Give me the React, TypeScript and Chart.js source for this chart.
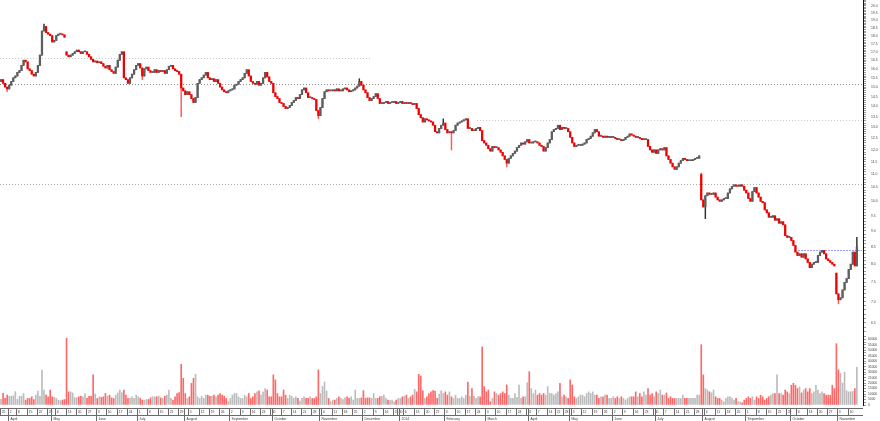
import React, { useEffect, useRef } from 'react';
import { Chart, registerables } from 'chart.js';
Chart.register(...registerables);

const FONT = "'Liberation Sans', Arial, sans-serif";

// ---- DATA ----
const startDate = '2013-03-25';
const holidays = ['2013-03-29', '2013-04-01', '2013-05-01', '2013-12-24', '2013-12-25', '2013-12-26', '2013-12-31', '2014-01-01', '2014-04-18', '2014-04-21', '2014-05-01'];

const closes = [
  15.4, 15.2, 15.0, 14.9, 15.1, 15.3, 15.5, 15.6, 15.8, 15.9,
  16.2, 16.5, 16.4, 16.0, 15.9, 15.7, 15.6, 15.8, 16.2, 16.8,
  18.3, 18.6, 18.2, 18.1, 18.0, 17.6, 17.7, 18.0, 18.1,
  18.1, 18.05, 17.9, 16.8, 16.7, 16.8, 16.9, 17.0, 17.1, 17.0,
  16.9, 17.0, 17.0, 16.85, 16.7, 16.55, 16.4, 16.45, 16.35, 16.4,
  16.3, 16.15, 16.05, 16.2, 15.95, 15.85, 15.75, 16.1, 16.5, 16.85,
  17.0, 15.5, 15.4, 15.2, 15.5, 15.7, 15.95, 16.2, 16.3,
  16.05, 15.6, 16.0, 16.1, 15.9, 15.8, 15.8, 15.95, 15.8, 15.9,
  15.85, 15.9, 15.75, 15.95, 16.15, 16.2, 16.0, 15.9, 15.85, 15.7,
  14.95, 14.8, 14.6, 14.75, 14.6, 14.4, 14.2, 14.45, 15.2, 15.4,
  15.5, 15.65, 15.8, 15.5, 15.4, 15.45, 15.3, 15.4, 15.2,
  15.0, 14.85, 14.75, 14.7, 14.8, 14.85, 14.9, 15.1, 15.15, 15.3,
  15.4, 15.5, 15.75, 15.95, 15.6, 15.3, 15.2, 15.15, 15.3, 15.1,
  15.2, 15.5, 15.8, 15.55, 15.3, 15.2, 14.7, 14.5, 14.4, 14.2,
  14.15, 14.0, 13.9, 13.95, 14.05, 14.2, 14.3, 14.45, 14.4, 14.6,
  14.85, 14.95, 14.7, 14.45, 14.45, 14.4, 14.35, 13.8, 13.55,
  13.95, 14.4, 14.75, 14.85, 14.8, 14.8, 14.85, 14.8, 14.9, 14.8,
  14.8, 14.9, 14.95, 14.85, 14.75, 14.8, 14.85, 14.95, 15.05, 15.3,
  15.1, 14.85, 14.7, 14.45, 14.3, 14.4, 14.5, 14.65, 14.4, 14.15,
  14.15, 14.2, 14.25, 14.15, 14.2, 14.2, 14.25, 14.15, 14.2,
  14.25, 14.15, 14.2, 14.15, 14.2, 14.15, 14.1, 14.15, 13.9, 13.6,
  13.45, 13.25, 13.4, 13.35, 13.3, 13.25, 13.1, 12.8, 12.75, 12.95,
  13.1, 13.2, 12.9, 12.75, 12.8, 12.75, 12.85, 13.1, 13.2, 13.25,
  13.3, 13.35, 13.4, 12.95, 12.95, 12.85, 12.85, 12.95, 13.0,
  12.85, 12.4, 12.3, 12.2, 12.05, 11.95, 12.15, 12.1, 12.1, 12.0,
  11.9, 11.75, 11.6, 11.45, 11.65, 11.75, 11.85, 11.95, 12.1, 12.2,
  12.3, 12.25, 12.35, 12.45, 12.3, 12.3, 12.35, 12.35, 12.3, 12.2,
  12.15, 11.95, 12.1, 12.3, 12.45, 12.8, 12.9, 12.95, 13.1,
  12.9, 13.0, 12.95, 12.95, 12.8, 12.55, 12.3, 12.15, 12.2, 12.2,
  12.2, 12.25, 12.3, 12.45, 12.5, 12.6, 12.75, 12.9, 12.8, 12.6,
  12.6, 12.55, 12.6, 12.55, 12.55, 12.55, 12.55, 12.5, 12.45, 12.45,
  12.4, 12.45, 12.55, 12.6, 12.7, 12.65, 12.6, 12.55, 12.55, 12.5,
  12.45, 12.45, 12.45, 12.15, 12.0, 11.9, 12.0, 11.85, 12.0,
  12.05, 12.0, 12.1, 11.75, 11.6, 11.45, 11.3, 11.2, 11.3, 11.45,
  11.55, 11.65, 11.6, 11.55, 11.55, 11.55, 11.6, 11.65, 11.65, 11.75,
  10.05, 9.8, 10.2, 10.3, 10.25, 10.25, 10.3, 10.15, 10.05, 10.0,
  10.05, 10.1, 10.1, 10.3, 10.45, 10.55, 10.6, 10.55, 10.55,
  10.6, 10.55, 10.4, 10.3, 10.1, 10.0, 10.35, 10.5, 10.3, 10.15,
  10.0, 9.95, 9.7, 9.6, 9.45, 9.45, 9.5, 9.35, 9.4, 9.25,
  9.3, 9.2, 8.85, 8.8, 8.8, 8.7, 8.55, 8.35, 8.25, 8.3,
  8.2, 8.3, 8.15, 8.05, 7.9, 8.0, 8.05, 8.05, 8.25,
  8.35, 8.4, 8.3, 8.15, 8.1, 8.05, 8.0, 7.95, 7.2, 7.05,
  7.1, 7.3, 7.5, 7.6, 7.85, 8.0, 8.35, 7.95, 8.5,
];

// opens that differ from the previous close: [day index, open]
const gapOpens: [number, number][] = [[0, 15.3], [32, 17.0], [342, 11.0], [408, 7.75]];
// shadows reaching beyond the body: [day index, value]
const wickLows: [number, number][] = [[3, 14.75], [69, 15.4], [88, 13.5], [155, 13.4], [220, 12.0], [247, 11.3], [344, 9.4], [409, 6.95]];
const wickHighs: [number, number][] = [[21, 18.75], [175, 15.45], [216, 13.4], [342, 11.05], [418, 8.8]];

const volumes = [
  5200, 10700, 6000, 9000, 8000, 8000, 8500, 12200, 5000, 8000,
  8000, 10500, 4500, 6000, 6000, 7500, 5000, 9000, 12800, 8000,
  32000, 13700, 9000, 7500, 13700, 7500, 7000, 6000, 4500,
  4000, 4500, 5000, 61000, 12000, 12000, 11000, 6700, 6700, 7500,
  8000, 7500, 10500, 6000, 8000, 8000, 27500, 10000, 6000, 7500,
  7000, 7500, 10500, 8000, 9000, 6500, 6000, 9000, 11000, 13700,
  11300, 13700, 9000, 6000, 6000, 7500, 6000, 9000, 7500,
  6000, 4500, 4500, 5000, 5000, 6500, 7500, 7500, 7500, 8000,
  6500, 6000, 8000, 9000, 13700, 6000, 4500, 7500, 10500, 11300,
  37200, 24400, 10500, 6000, 7500, 19800, 24400, 28000, 7500, 6000,
  8000, 6000, 9000, 9000, 8000, 8000, 9000, 7500, 9000,
  10500, 9000, 8000, 6000, 3000, 6000, 9000, 10500, 10500, 7500,
  6000, 6000, 9000, 7500, 10500, 6000, 7500, 10500, 12000, 13000,
  9000, 12000, 15000, 13700, 7500, 7500, 27500, 22900, 10500, 7500,
  7500, 13700, 9000, 6000, 9000, 8000, 6000, 7500, 6000, 3500,
  6000, 7500, 6000, 6000, 7500, 6000, 6000, 7500, 32000,
  10500, 17000, 21000, 12800, 6000, 3000, 4500, 4500, 6000, 7500,
  6000, 5000, 6500, 7500, 6000, 7500, 4500, 13700, 6000, 6000,
  6500, 13100, 6000, 6500, 6500, 6000, 10500, 6000, 6000, 7500,
  8000, 9000, 6000, 4500, 4000, 4500, 3000, 4500, 6000,
  6000, 7500, 8000, 9000, 6000, 7500, 9000, 14300, 12000, 28000,
  26500, 13000, 6000, 7500, 10500, 12000, 13100, 12800, 6000, 10000,
  13100, 10500, 12000, 9000, 12000, 7500, 6000, 9000, 6000, 6000,
  7500, 6000, 9000, 21000, 8000, 15000, 8000, 6000, 7500,
  7500, 53000, 16800, 12000, 13700, 3000, 6000, 12000, 10500, 9000,
  10500, 12000, 10500, 18300, 9000, 6000, 6000, 10500, 7000, 18300,
  6000, 7500, 7500, 20400, 30500, 15000, 10500, 13700, 9000, 10500,
  9000, 10500, 9000, 16800, 10500, 10500, 9000, 10500, 12000,
  19800, 7500, 9000, 7500, 6000, 23000, 18300, 7500, 6000, 7500,
  9000, 9000, 7500, 10500, 12000, 10500, 12000, 9000, 9000, 6000,
  7500, 7500, 9000, 9000, 6000, 6000, 7500, 6000, 7500, 6000,
  7500, 6000, 4500, 6000, 7500, 7500, 7500, 12000, 7500, 10500,
  7500, 12000, 9000, 15000, 9000, 10500, 7500, 12000, 10500,
  13700, 9000, 9000, 11000, 6000, 7500, 6000, 6000, 6000, 6000,
  6000, 9000, 6000, 6000, 6000, 6000, 6000, 6000, 9000, 9000,
  55000, 27500, 15000, 13700, 12000, 11000, 13700, 7500, 6000, 6000,
  4500, 3000, 6000, 7500, 7500, 6000, 4500, 6000, 3000,
  3000, 2000, 4500, 6000, 7500, 6000, 7500, 4500, 7500, 6000,
  9000, 7500, 4500, 6000, 7500, 9000, 10500, 10500, 27500, 10500,
  10500, 9000, 13700, 12000, 10500, 18000, 19800, 18000, 15000, 16500,
  11000, 13700, 15000, 12000, 15000, 10500, 12000, 18000, 13700,
  10500, 12000, 10500, 9000, 9000, 9000, 18000, 15000, 56000, 32000,
  29000, 20000, 30000, 13000, 12000, 12000, 12500, 15000, 34500,
];

// support / resistance levels (price) and the day-index span they cover
const levelValues = [16.6, 15.15, 13.35, 10.62, 8.42];
const levelFrom = [0, 0, 233, 0, 390];
const levelTo = [180, 420, 420, 420, 420];

const priceTickLabels = [6.5, 7.0, 7.5, 8.0, 8.5, 9.0, 9.5, 10.0, 10.5, 11.0, 11.5, 12.0, 12.5, 13.0, 13.5, 14.0, 14.5, 15.0, 15.5, 16.0, 16.5, 17.0, 17.5, 18.0, 18.5, 19.0, 19.5, 20.0];
const volumeTickLabels = [0, 5000, 10000, 15000, 20000, 25000, 30000, 35000, 40000, 45000, 50000, 55000, 60000];
const monthNames = ['2014', 'February', 'March', 'April', 'May', 'June', 'July', 'August', 'September', 'October', 'November', 'December'];

// ---- STYLE ----
const levelColors = ['#c9c9c9', '#8c8c8c', '#c9c9c9', '#ababab', '#3a3aff'];
const X_MIN = -0.5;
const X_MAX = 421;

function tradingDates(n: number): Date[] {
  const hol = new Set(holidays);
  const out: Date[] = [];
  const d = new Date(startDate + 'T00:00:00Z');
  while (out.length < n) {
    const wd = d.getUTCDay();
    const key = d.toISOString().slice(0, 10);
    if (wd !== 0 && wd !== 6 && !hol.has(key)) out.push(new Date(d.getTime()));
    d.setUTCDate(d.getUTCDate() + 1);
  }
  return out;
}

export default function App() {
  const pRef = useRef<HTMLCanvasElement>(null);
  const vRef = useRef<HTMLCanvasElement>(null);

  useEffect(() => {
    const n = closes.length;
    const idx = closes.map((_, i) => i);
    const gapMap = new Map(gapOpens);
    const lowMap = new Map(wickLows);
    const highMap = new Map(wickHighs);
    const opens = idx.map(i => (gapMap.has(i) ? (gapMap.get(i) as number) : closes[i - 1]));
    const highs = idx.map(i => Math.max(opens[i], closes[i], highMap.get(i) ?? 0));
    const lows = idx.map(i => Math.min(opens[i], closes[i], lowMap.get(i) ?? 1e9));
    const up = idx.map(i => closes[i] >= opens[i]);
    const dates = tradingDates(n);

    const labelSet = new Set(priceTickLabels.map(v => Math.round(v * 10)));
    const minorPrice: number[] = [];
    for (let k = 63; k <= 204; k++) minorPrice.push(k / 10);
    const volLabelSet = new Set(volumeTickLabels);
    const minorVol: number[] = [];
    for (let v = 0; v <= 62500; v += 2500) minorVol.push(v);

    const levelsPlugin = {
      id: 'levels',
      beforeDatasetsDraw(chart: any) {
        const { ctx, scales, chartArea } = chart;
        const x = scales.x, y = scales.y;
        ctx.save();
        ctx.lineWidth = 1;
        ctx.setLineDash([1, 2]);
        levelValues.forEach((v, k) => {
          const py = Math.round(y.getPixelForValue(v)) + 0.5;
          const x0 = Math.max(chartArea.left, x.getPixelForValue(levelFrom[k] - 0.5));
          const x1 = Math.min(chartArea.right, x.getPixelForValue(levelTo[k] + 0.5));
          ctx.strokeStyle = levelColors[k];
          ctx.beginPath();
          ctx.moveTo(x0, py);
          ctx.lineTo(x1, py);
          ctx.stroke();
        });
        ctx.restore();
      },
    };

    const dateAxisPlugin = {
      id: 'dateAxis',
      afterDraw(chart: any) {
        const { ctx, chartArea } = chart;
        const x = chart.scales.x;
        const half = (x.getPixelForValue(1) - x.getPixelForValue(0)) / 2;
        const top = Math.round(chartArea.bottom + 3) + 0.5;
        const mid = top + 7;
        const bot = chart.height;
        const right = chartArea.right;
        ctx.save();
        ctx.strokeStyle = '#6a6a6a';
        ctx.lineWidth = 1;
        ctx.beginPath();
        ctx.moveTo(0, top); ctx.lineTo(right, top);
        ctx.moveTo(0, mid); ctx.lineTo(right, mid);
        ctx.stroke();
        ctx.fillStyle = '#3a3a3a';
        ctx.textBaseline = 'middle';
        ctx.textAlign = 'left';
        for (let j = 0; j < dates.length; j++) {
          const d = dates[j];
          const prev = j > 0 ? dates[j - 1] : null;
          const newWeek = !prev || d.getUTCDay() < prev.getUTCDay() || d.getTime() - prev.getTime() > 4 * 86400000;
          const newMonth = prev && d.getUTCMonth() !== prev.getUTCMonth();
          const px = Math.round(x.getPixelForValue(j) - half) + 0.5;
          if (newWeek || newMonth) {
            ctx.beginPath();
            ctx.moveTo(px, top);
            ctx.lineTo(px, newMonth ? bot : mid);
            ctx.stroke();
          }
          if (newWeek) {
            ctx.font = `3.4px ${FONT}`;
            ctx.fillText(String(d.getUTCDate()), px + 1.2, top + 3.6);
          }
          if (newMonth) {
            ctx.font = `3.4px ${FONT}`;
            ctx.fillText(monthNames[d.getUTCMonth()], px + 2, mid + 3.6);
          }
        }
        ctx.restore();
      },
    };

    const yAxisCommon = {
      position: 'right' as const,
      afterFit: (s: any) => { s.width = 17; s.paddingTop = 0; s.paddingBottom = 0; },
      grid: { drawOnChartArea: false, drawTicks: true, tickLength: 3, tickColor: '#555', tickWidth: 0.6 },
      border: { display: true, color: '#111', width: 1 },
    };
    const xAxis = { type: 'linear', min: X_MIN, max: X_MAX, offset: false, display: false } as any;

    const priceChart = new Chart(pRef.current as HTMLCanvasElement, {
      type: 'bar',
      data: {
        datasets: [
          {
            label: 'body',
            data: idx.map(i => ({ x: i, y: [opens[i], closes[i]] })) as any,
            backgroundColor: idx.map(i => (up[i] ? '#5e5e5e' : '#f00000')),
            barThickness: 1.6,
            minBarLength: 1,
            grouped: false,
            order: 1,
          },
          {
            label: 'shadow',
            data: idx.map(i => ({ x: i, y: [lows[i], highs[i]] })) as any,
            backgroundColor: idx.map(i => (up[i] ? '#2e2e2e' : '#ff5a5a')),
            barThickness: 0.8,
            grouped: false,
            order: 2,
          },
        ],
      },
      options: {
        responsive: false,
        animation: false,
        events: [],
        layout: { padding: 0 },
        plugins: { legend: { display: false }, tooltip: { enabled: false } },
        scales: {
          x: xAxis,
          y: {
            ...yAxisCommon,
            type: 'logarithmic',
            min: 6.244,
            max: 20.43,
            afterBuildTicks: (s: any) => { s.ticks = minorPrice.map(v => ({ value: v })); },
            ticks: {
              autoSkip: false,
              padding: 5,
              color: '#444',
              font: { size: 3.4, family: FONT },
              callback: (v: any) => (labelSet.has(Math.round(Number(v) * 10)) ? Number(v).toFixed(1) : ''),
            },
          } as any,
        },
      },
      plugins: [levelsPlugin],
    });

    const volChart = new Chart(vRef.current as HTMLCanvasElement, {
      type: 'bar',
      data: {
        datasets: [
          {
            label: 'volume',
            data: idx.map(i => ({ x: i, y: volumes[i] })) as any,
            backgroundColor: idx.map(i => (up[i] ? '#bcbcbc' : '#ff6868')),
            barThickness: 1,
          },
        ],
      },
      options: {
        responsive: false,
        animation: false,
        events: [],
        layout: { padding: { top: 0, left: 0, right: 0, bottom: 16 } },
        plugins: { legend: { display: false }, tooltip: { enabled: false } },
        scales: {
          x: xAxis,
          y: {
            ...yAxisCommon,
            type: 'linear',
            min: 0,
            max: 64840,
            afterBuildTicks: (s: any) => { s.ticks = minorVol.map(v => ({ value: v })); },
            ticks: {
              autoSkip: false,
              padding: 2,
              color: '#444',
              font: { size: 3.3, family: FONT },
              callback: (v: any) => (volLabelSet.has(Number(v)) ? String(v) : ''),
            },
          } as any,
        },
      },
      plugins: [dateAxisPlugin],
    });

    return () => {
      priceChart.destroy();
      volChart.destroy();
    };
  }, []);

  return (
    <div style={{ position: 'fixed', left: 0, top: 0, width: 880, height: 421, background: '#fff', overflow: 'hidden' }}>
      <canvas ref={pRef} width={880} height={334} style={{ display: 'block', width: 880, height: 334 }} />
      <canvas ref={vRef} width={880} height={87} style={{ display: 'block', width: 880, height: 87 }} />
    </div>
  );
}
